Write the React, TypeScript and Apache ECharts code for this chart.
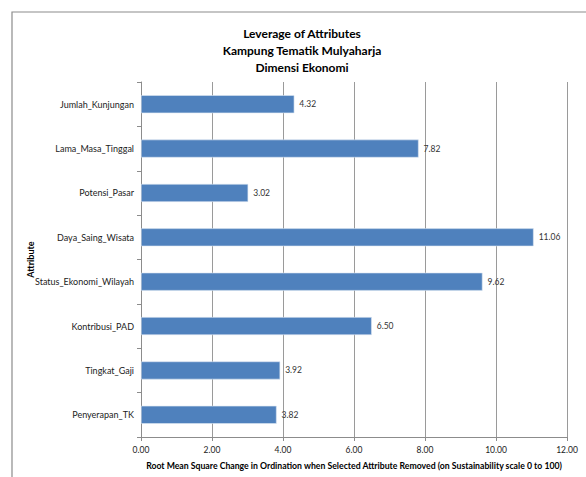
import React, { useEffect, useRef } from "react";
import * as echarts from "echarts";

const titleLines = ["Leverage of Attributes", "Kampung Tematik Mulyaharja", "Dimensi Ekonomi"];
const attributes = [
  "Jumlah_Kunjungan",
  "Lama_Masa_Tinggal",
  "Potensi_Pasar",
  "Daya_Saing_Wisata",
  "Status_Ekonomi_Wilayah",
  "Kontribusi_PAD",
  "Tingkat_Gaji",
  "Penyerapan_TK",
];
const rmsChange = [4.32, 7.82, 3.02, 11.06, 9.62, 6.5, 3.92, 3.82];
const xAxisName =
  "Root Mean Square Change in Ordination when Selected Attribute Removed (on Sustainability scale 0 to 100)";
const yAxisName = "Attribute";

const FONT = "Lato, 'Open Sans', sans-serif";

export default function App() {
  const ref = useRef<HTMLDivElement>(null);

  useEffect(() => {
    document.body.style.margin = "0";
    const chart = echarts.init(ref.current!, null, { renderer: "svg" });
    chart.setOption({
      animation: false,
      backgroundColor: "#ffffff",
      title: {
        text: titleLines.join("\n"),
        left: 297,
        textAlign: "center",
        top: 20,
        textStyle: {
          fontFamily: FONT,
          fontSize: 12,
          fontWeight: "bold",
          color: "#000000",
          lineHeight: 17,
        },
      },
      graphic: [
        {
          type: "rect",
          shape: { x: 12, y: 12, width: 620, height: 520 },
          style: { fill: "none", stroke: "#8c8c8c", lineWidth: 1.2 },
          silent: true,
        },
      ],
      grid: { left: 141, right: 19, top: 82, bottom: 40 },
      xAxis: {
        type: "value",
        min: 0,
        max: 12,
        interval: 2,
        name: xAxisName,
        nameLocation: "middle",
        nameGap: 24,
        nameTextStyle: { fontFamily: FONT, fontSize: 8.7, fontWeight: "bold", color: "#000" },
        axisLine: { show: true, lineStyle: { color: "#8c8c8c" } },
        axisTick: { show: true, length: 4, lineStyle: { color: "#8c8c8c" } },
        axisLabel: {
          fontFamily: FONT,
          fontSize: 8.5,
          color: "#222",
          margin: 8,
          formatter: (v: number) => v.toFixed(2),
        },
        splitLine: { show: true, lineStyle: { color: "#9a9a9a", width: 1 } },
      },
      yAxis: {
        type: "category",
        data: attributes,
        inverse: true,
        name: yAxisName,
        nameLocation: "middle",
        nameGap: 106,
        nameMoveOverlap: false,
        nameRotate: 90,
        nameTextStyle: { fontFamily: FONT, fontSize: 9, fontWeight: "bold", color: "#000" },
        axisLine: { show: true, lineStyle: { color: "#8c8c8c" } },
        axisTick: { show: true, length: 4, lineStyle: { color: "#8c8c8c" } },
        axisLabel: { fontFamily: FONT, fontSize: 9, color: "#222", margin: 7 },
      },
      series: [
        {
          type: "bar",
          data: rmsChange,
          barWidth: 18,
          itemStyle: { color: "#4f81bd", borderColor: "#dbe5f1", borderWidth: 0.6 },
          label: {
            show: true,
            position: "right",
            distance: 5,
            fontFamily: FONT,
            fontSize: 8.5,
            color: "#333",
            formatter: (p: any) => Number(p.value).toFixed(2),
          },
        },
      ],
    });
    return () => chart.dispose();
  }, []);

  return <div ref={ref} style={{ width: 586, height: 477 }} />;
}
